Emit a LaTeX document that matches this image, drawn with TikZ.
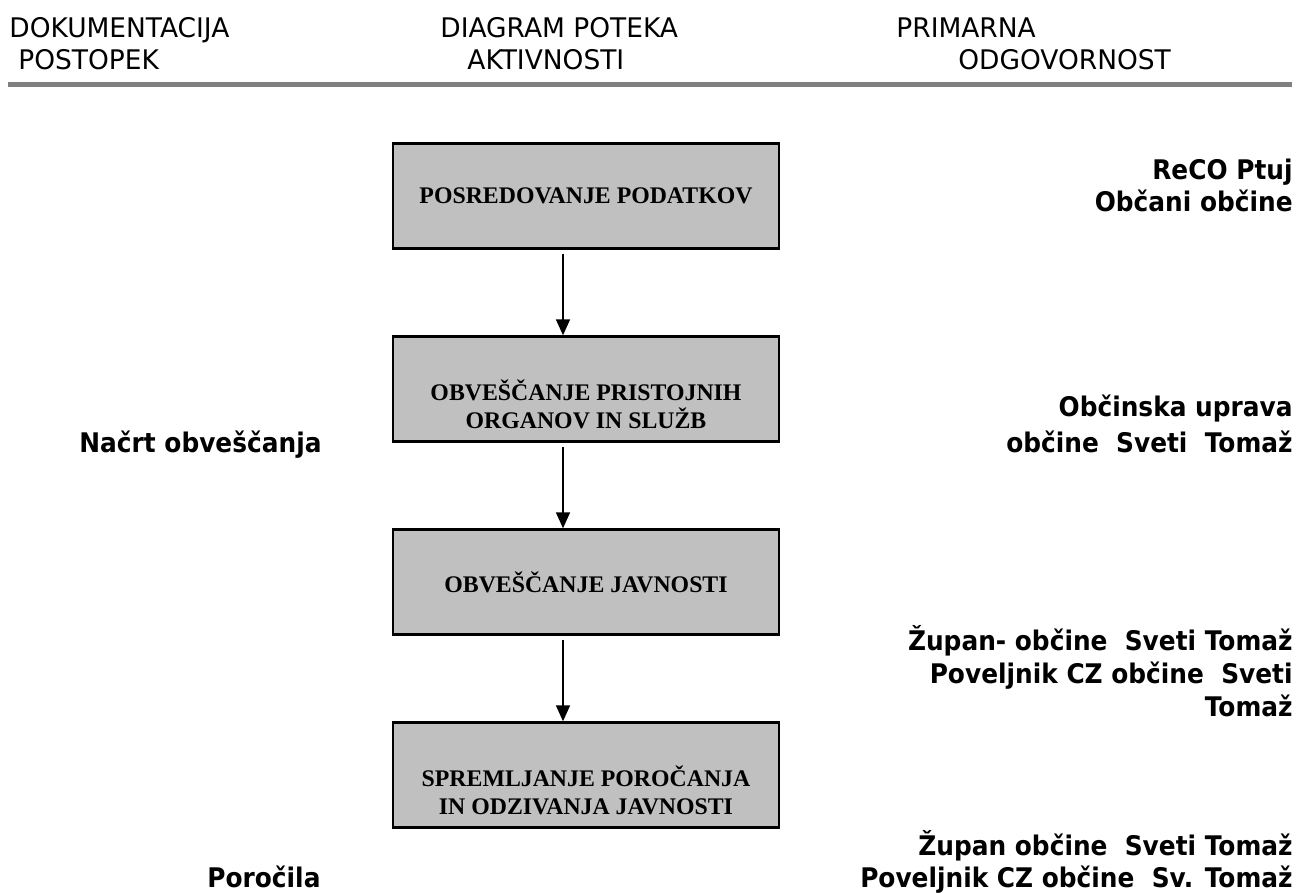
\documentclass[tikz,border=0pt]{standalone}
\usepackage{fontspec}
\setmainfont{Liberation Serif}
\newfontfamily\glavafont[FakeStretch=0.98]{DejaVu Sans}
\newfontfamily\odgfont[FakeStretch=0.92]{DejaVu Sans}
\usetikzlibrary{arrows.meta,positioning}
\definecolor{polje}{HTML}{C0C0C0}
\definecolor{crta}{HTML}{808080}

\begin{document}
\begin{tikzpicture}[x=0.5pt,y=-0.5pt,
	glava/.style={anchor=base west,inner sep=0pt,font=\glavafont\fontsize{13.5pt}{16pt}\selectfont},
	korak/.style={draw=black,line width=1.2pt,fill=polje,minimum width=193pt,minimum height=52.5pt,
		inner sep=0pt,align=center,font=\fontsize{11.9pt}{14pt}\selectfont\bfseries},
	odg/.style={anchor=base east,inner sep=0pt,font=\odgfont\bfseries\fontsize{13.5pt}{16pt}\selectfont},
	dok/.style={anchor=base west,inner sep=0pt,font=\odgfont\bfseries\fontsize{13.5pt}{16pt}\selectfont},
	tok/.style={-{Triangle[length=8pt,width=7pt]},line width=0.8pt}]
	
	\useasboundingbox (0,0) rectangle (1311,893);
	
	% glava
	\node[glava] (dok1) at (9,38) {DOKUMENTACIJA};
	\node[glava] (dok2) at (18,70) {POSTOPEK};
	\node[glava] (diag1) at (440,38) {DIAGRAM POTEKA};
	\node[glava] (diag2) at (467,70) {AKTIVNOSTI};
	\node[glava] (prim1) at (896,38) {PRIMARNA};
	\node[glava] (prim2) at (958,70) {ODGOVORNOST};
	\draw[crta,line width=2.5pt] (8,85) -- (1292,85);
	
	% diagram poteka
	\node[korak] (b1) at (586,196) {POSREDOVANJE PODATKOV};
	\node[korak] (b2) at (586,389) {\strut\\OBVEŠČANJE PRISTOJNIH\\ORGANOV IN SLUŽB};
	\node[korak] (b3) at (586,582) {OBVEŠČANJE JAVNOSTI};
	\node[korak] (b4) at (586,775) {\strut\\SPREMLJANJE POROČANJA\\IN ODZIVANJA JAVNOSTI};
	
	\draw[tok] ([xshift=-11.5pt,yshift=-2pt]b1.south) -- ([xshift=-11.5pt]b2.north);
	\draw[tok] ([xshift=-11.5pt,yshift=-2pt]b2.south) -- ([xshift=-11.5pt]b3.north);
	\draw[tok] ([xshift=-11.5pt,yshift=-2pt]b3.south) -- ([xshift=-11.5pt]b4.north);
	
	% dokumentacija
	\node[dok] (nacrt) at (79,452) {Načrt obveščanja};
	\node[dok] (porocila) at (207,887) {Poročila};
	
	% odgovornost
	\node[odg] (reco) at (1293,180) {ReCO Ptuj};
	\node[odg] (obcani) at (1293,212) {Občani občine};
	\node[odg] (uprava) at (1293,416) {Občinska uprava};
	\node[odg] (obcina) at (1293,452) {občine\ \ Sveti\ \ Tomaž};
	\node[odg] (zupan1) at (1293,650) {Župan- občine\ \ Sveti Tomaž};
	\node[odg] (povelj1) at (1293,683) {Poveljnik CZ občine\ \ Sveti};
	\node[odg] (tomaz1) at (1293,716) {Tomaž};
	\node[odg] (zupan2) at (1293,855) {Župan občine\ \ Sveti Tomaž};
	\node[odg] (povelj2) at (1293,887) {Poveljnik CZ občine\ \ Sv. Tomaž};
	
\end{tikzpicture}
\end{document}
